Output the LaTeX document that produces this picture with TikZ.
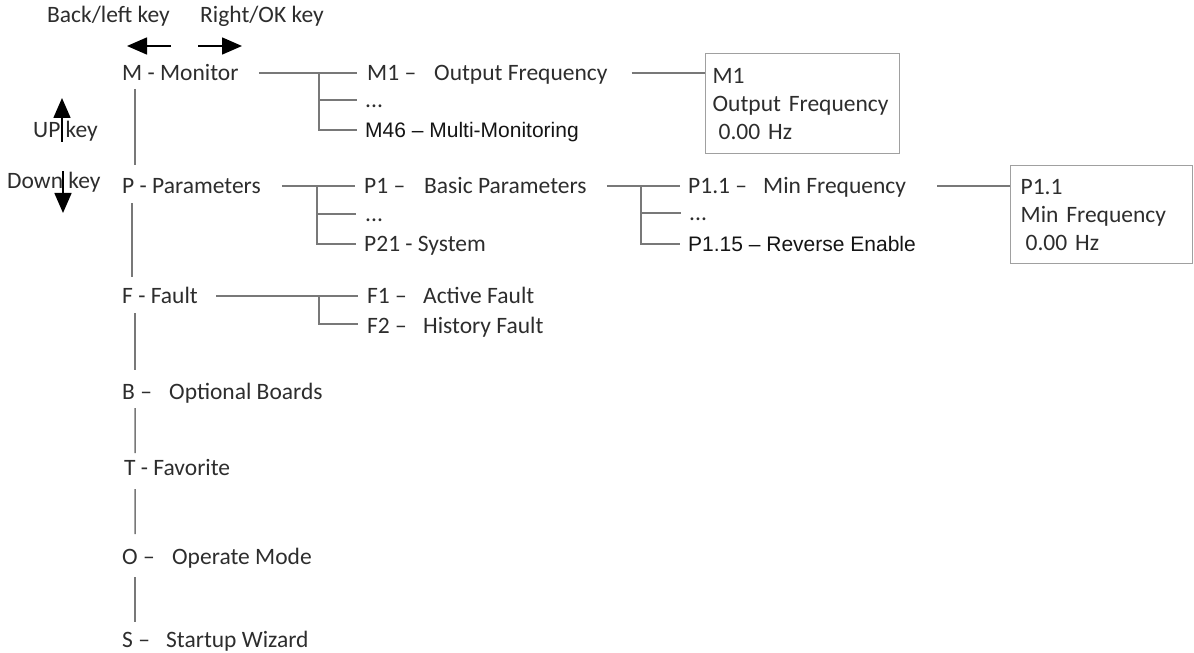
\documentclass[tikz,border=0pt]{standalone}
\usepackage{fontspec}
\setmainfont{Carlito}
\newfontfamily\arialf{Liberation Sans}
\usetikzlibrary{arrows.meta}
\definecolor{txt}{RGB}{45,45,45}
\definecolor{txtb}{RGB}{20,20,20}
\definecolor{lin}{RGB}{120,120,120}
\definecolor{boxc}{RGB}{160,160,160}
\begin{document}
\begin{tikzpicture}[x=1bp,y=-1bp,
  lbl/.style={anchor=west, inner sep=0pt, text height=15bp, text depth=0pt, text=txt,
              font=\fontsize{23.5bp}{28bp}\selectfont},
  albl/.style={lbl, text=txtb, font=\arialf\fontsize{21bp}{25bp}\selectfont},
  ln/.style={draw=lin, line width=1.5bp},
  keyarrow/.style={draw=black, line width=1.6bp, -{Triangle[length=20bp,width=17bp]}},
  infobox/.style={draw=boxc, line width=1.3bp, anchor=north west, align=left, text=txt,
                  font=\fontsize{23.5bp}{28bp}\selectfont}
]
\useasboundingbox (0,0) rectangle (1194,653);

% key labels and arrows
\node[lbl] (back) at (47,15) {Back/left key};
\node[lbl] (right) at (200,15) {Right/OK key};
\node[lbl] (up) at (33,130) {UP key};
\node[lbl] (down) at (7,181) {Down key};
\coordinate (la1) at (171,46); \coordinate (la2) at (127,46);
\coordinate (ra1) at (198,46); \coordinate (ra2) at (242,46);
\coordinate (ua1) at (62,142); \coordinate (ua2) at (62,98);
\coordinate (da1) at (63,171); \coordinate (da2) at (63,213);
\draw[keyarrow] (la1) -- (la2);
\draw[keyarrow] (ra1) -- (ra2);
\draw[keyarrow] (ua1) -- (ua2);
\draw[keyarrow] (da1) -- (da2);

% main menu column
\node[lbl] (Mon) at (122,73) {M - Monitor};
\node[lbl] (Par) at (122,186) {P - Parameters};
\node[lbl] (Flt) at (122,296) {F - Fault};
\node[lbl] (Brd) at (122,392) {\makebox[47bp][l]{B –}Optional Boards};
\node[lbl] (Fav) at (124,468) {T - Favorite};
\node[lbl] (Opm) at (122,557) {\makebox[50bp][l]{O –}Operate Mode};
\node[lbl] (Stw) at (122,640) {\makebox[44bp][l]{S –}Startup Wizard};

\draw[ln] ([xshift=13bp,yshift=-16bp]Mon.west) -- ([xshift=13bp,yshift=21bp]Par.west);
\draw[ln] ([xshift=10bp,yshift=-17bp]Par.west) -- ([xshift=10bp,yshift=19bp]Flt.west);
\draw[ln] ([xshift=13bp,yshift=-17bp]Flt.west) -- ([xshift=13bp,yshift=22bp]Brd.west);
\draw[ln] ([xshift=13bp,yshift=-16bp]Brd.west) -- ([xshift=11bp,yshift=15bp]Fav.west);
\draw[ln] ([xshift=11bp,yshift=-21bp]Fav.west) -- ([xshift=13bp,yshift=23bp]Opm.west);
\draw[ln] ([xshift=13bp,yshift=-20bp]Opm.west) -- ([xshift=13bp,yshift=18bp]Stw.west);

% Monitor branch
\node[lbl] (M1) at (367,73) {\makebox[67bp][l]{M1 –}Output Frequency};
\node[lbl] (Mdots) at (365,100) {...};
\node[albl] (M46) at (365,130) {M46 – Multi-Monitoring};
\coordinate (mj) at ([xshift=-48bp]M1.west);
\draw[ln] ([xshift=20bp]Mon.east) -- ([xshift=-10bp]M1.west);
\draw[ln] (mj) |- ([xshift=-8bp]M46.west);
\draw[ln] (mj |- Mdots.west) -- ([xshift=-8bp]Mdots.west);
\node[infobox, minimum width=194bp, minimum height=100bp, text width=180bp, inner xsep=7bp]
  (BoxM) at (705,53) {M1\\Output Frequency\\\hspace*{6bp}0.00 Hz};
\draw[ln] ([xshift=24bp]M1.east) -- (BoxM.west |- M1.east);

% Parameters branch
\node[lbl] (P1) at (364,186) {\makebox[60bp][l]{P1 –}Basic Parameters};
\node[lbl] (Pdots) at (365,214) {...};
\node[lbl] (P21) at (364,244) {P21 - System};
\coordinate (pj) at ([xshift=-47bp]P1.west);
\draw[ln] ([xshift=21bp]Par.east) -- ([xshift=-9bp]P1.west);
\draw[ln] (pj) |- ([xshift=-8bp]P21.west);
\draw[ln] (pj |- Pdots.west) -- ([xshift=-9bp]Pdots.west);

\node[lbl] (P11) at (688,186) {\makebox[75bp][l]{P1.1 –}Min Frequency};
\node[lbl] (P1dots) at (689,213) {...};
\node[albl] (P115) at (688,244) {P1.15 – Reverse Enable};
\coordinate (qj) at ([xshift=-47bp]P11.west);
\draw[ln] ([xshift=20bp]P1.east) -- ([xshift=-8bp]P11.west);
\draw[ln] (qj) |- ([xshift=-8bp]P115.west);
\draw[ln] (qj |- P1dots.west) -- ([xshift=-8bp]P1dots.west);
\node[infobox, minimum width=182bp, minimum height=98bp, text width=162bp, inner xsep=10bp]
  (BoxP) at (1010,165) {P1.1\\Min Frequency\\\hspace*{5bp}0.00 Hz};
\draw[ln] ([xshift=31bp]P11.east) -- (BoxP.west |- P11.east);

% Fault branch
\node[lbl] (F1) at (367,296) {\makebox[56bp][l]{F1 –}Active Fault};
\node[lbl] (F2) at (367,326) {\makebox[56bp][l]{F2 –}History Fault};
\coordinate (fj) at ([xshift=-48bp]F1.west);
\draw[ln] ([xshift=18bp]Flt.east) -- ([xshift=-9bp]F1.west);
\draw[ln] (fj) |- ([xshift=-9bp,yshift=2bp]F2.west);
\end{tikzpicture}
\end{document}
